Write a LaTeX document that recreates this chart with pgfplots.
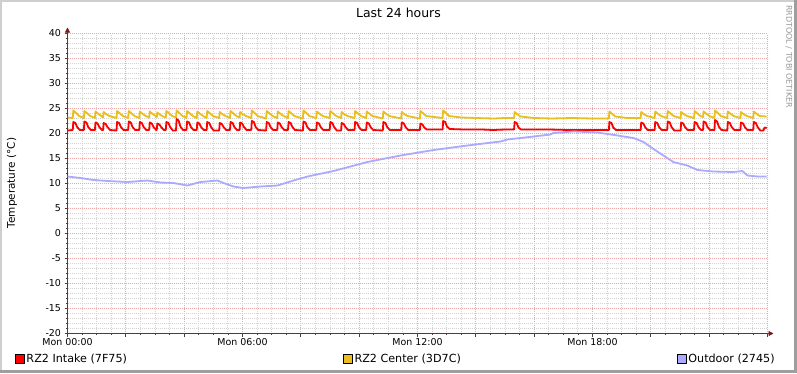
\documentclass[border=0pt]{standalone}
\usepackage{pgfplots}
\pgfplotsset{compat=1.18}
\usepackage{fontspec}
\setmainfont{DejaVu Sans}
\usetikzlibrary{arrows.meta}
\definecolor{cRed}{RGB}{255,0,0}
\definecolor{cYel}{RGB}{234,190,30}
\definecolor{cBlue}{RGB}{170,170,255}
\definecolor{mgrid}{RGB}{236,168,168}
\definecolor{sgrid}{RGB}{212,212,212}
\definecolor{arrowc}{RGB}{127,25,25}
\definecolor{axisc}{RGB}{80,60,60}
\definecolor{shadeA}{RGB}{207,207,207}
\definecolor{shadeB}{RGB}{158,158,158}
\begin{document}
\begin{tikzpicture}[x=1bp,y=1bp]
\fill[white] (0,0) rectangle (797,373);
\useasboundingbox (0,0) rectangle (797,373);
\fill[shadeA] (0,0) rectangle (2,373);
\fill[shadeA] (0,371) rectangle (797,373);
\fill[shadeB] (794,0) rectangle (797,373);
\fill[shadeB] (0,0) rectangle (797,3);
\node[font=\fontsize{12.5}{14}\selectfont] at (398.5,360) {Last 24 hours};
\node[rotate=90,font=\fontsize{10.5}{12}\selectfont] at (12,190) {Temperature (°C)};
\node[rotate=-90,anchor=west,inner sep=0pt,font=\fontsize{8}{9}\selectfont,text=black!40] at (789,368) {RRDTOOL / TOBI OETIKER};
\begin{axis}[
  at={(67.5bp,39.5bp)}, anchor=south west, scale only axis,
  width=700bp, height=300bp,
  xmin=0, xmax=24, ymin=-20, ymax=40,
  axis lines=left,
  axis line style={draw=axisc, line width=1bp},
  x axis line style={-{Triangle[length=5bp,width=5bp,fill=arrowc,color=arrowc]}, shorten >=-6bp},
  y axis line style={-{Triangle[length=5bp,width=5bp,fill=arrowc,color=arrowc]}, shorten >=-6bp},
  xtick={0,2,...,24},
  xticklabels={Mon 00:00,{},{},Mon 06:00,{},{},Mon 12:00,{},{},Mon 18:00,{},{},{}},
  ytick={-20,-15,...,40},
  minor x tick num=3, minor y tick num=4,
  grid=both,
  major grid style={draw=mgrid, line width=1bp, dash pattern=on 1bp off 1bp},
  minor grid style={draw=sgrid, line width=1bp, dash pattern=on 1bp off 1bp},
  tick align=outside, major tick length=3bp, minor tick length=1.5bp,
  tick style={draw=axisc, line width=0.7bp},
  /pgf/number format/assume math mode=true,
  ticklabel style={font=\fontsize{9.5}{10}\selectfont},
  xticklabel style={yshift=1.5bp},
  legend columns=3,
  legend cell align=left,
  legend image code/.code={\draw[#1,draw=black,line width=0.5bp,fill] (0bp,-4.5bp) rectangle (9bp,4.5bp);},
  legend style={draw=none, fill=none, inner sep=0pt, outer sep=0pt,
    at={(-0.0750,-0.0850)}, anchor=west,
    font=\fontsize{11.2}{12}\selectfont,
    /tikz/every even column/.append style={column sep=214bp}},
  every axis plot/.append style={line width=1.8bp, line join=round, mark=none},
]
\addplot[cRed, sharp plot] coordinates {
(0,20.6)
(0.18,20.7)(0.20,22.3)(0.27,22.1)(0.33,21.3)(0.42,20.7)
(0.56,20.7)(0.58,22.4)(0.65,22.2)(0.71,21.3)(0.80,20.7)
(0.94,20.7)(0.96,22.2)(1.03,22.0)(1.09,21.3)(1.18,20.7)
(1.22,20.7)(1.24,22.1)(1.31,21.9)(1.37,21.3)(1.46,20.7)
(1.68,20.6)(1.70,22.3)(1.77,22.1)(1.83,21.3)(1.92,20.7)
(2.08,20.7)(2.10,22.4)(2.17,22.2)(2.23,21.3)(2.32,20.7)
(2.46,20.7)(2.48,22.3)(2.55,22.1)(2.61,21.3)(2.70,20.7)
(2.80,20.7)(2.82,22.2)(2.89,22.0)(2.95,21.3)(3.04,20.7)
(3.06,20.7)(3.08,22.0)(3.15,21.8)(3.21,21.3)(3.30,20.7)
(3.37,20.7)(3.39,22.3)(3.46,22.1)(3.52,21.3)(3.61,20.6)
(3.72,20.6)(3.74,22.9)(3.81,22.6)(3.87,21.4)(3.96,20.7)
(4.08,20.7)(4.10,22.4)(4.17,22.2)(4.23,21.3)(4.32,20.7)
(4.43,20.7)(4.45,22.2)(4.52,22.0)(4.58,21.3)(4.67,20.7)
(4.77,20.7)(4.79,22.3)(4.86,22.1)(4.92,21.3)(5.01,20.6)
(5.20,20.6)(5.22,22.1)(5.29,21.9)(5.35,21.3)(5.44,20.7)
(5.57,20.7)(5.59,22.3)(5.66,22.1)(5.72,21.3)(5.81,20.7)
(5.90,20.7)(5.92,22.2)(5.99,22.0)(6.05,21.3)(6.14,20.7)
(6.30,20.7)(6.32,22.5)(6.39,22.3)(6.45,21.3)(6.54,20.7)
(6.81,20.6)(6.83,22.3)(6.90,22.1)(6.96,21.3)(7.05,20.7)
(7.19,20.7)(7.21,22.2)(7.28,22.0)(7.34,21.3)(7.43,20.7)
(7.56,20.7)(7.58,22.3)(7.65,22.1)(7.71,21.3)(7.80,20.7)
(8.07,20.6)(8.09,22.4)(8.16,22.2)(8.22,21.3)(8.31,20.7)
(8.53,20.7)(8.55,22.2)(8.62,22.0)(8.68,21.3)(8.77,20.7)
(8.99,20.7)(9.01,22.3)(9.08,22.1)(9.14,21.3)(9.23,20.6)
(9.38,20.6)(9.40,22.1)(9.47,21.9)(9.53,21.3)(9.62,20.7)
(9.84,20.7)(9.86,22.3)(9.93,22.1)(9.99,21.3)(10.08,20.7)
(10.24,20.7)(10.26,22.2)(10.33,22.0)(10.39,21.3)(10.48,20.7)
(10.81,20.6)(10.83,22.3)(10.90,22.1)(10.96,21.3)(11.05,20.7)
(11.44,20.7)(11.46,22.2)(11.53,22.0)(11.59,21.3)(11.68,20.7)
(12.08,20.7)(12.10,22.0)(12.17,21.8)(12.23,21.2)(12.32,20.8)
(12.86,20.8)(12.88,22.5)(12.95,22.3)(13.01,21.4)(13.10,20.9)
(13.6,20.8)(14.2,20.8)(14.6,20.7)(15.0,20.8)
(15.31,20.8)(15.33,22.3)(15.40,22.1)(15.46,21.2)(15.55,20.8)
(16.5,20.8)(17.2,20.7)(18.0,20.7)
(18.56,20.7)(18.58,22.3)(18.65,22.1)(18.71,21.2)(18.80,20.7)
(19.3,20.7)
(19.65,20.7)(19.67,22.2)(19.74,22.0)(19.80,21.3)(19.89,20.7)
(20.13,20.7)(20.15,22.3)(20.22,22.1)(20.28,21.3)(20.37,20.7)
(20.56,20.7)(20.58,22.4)(20.65,22.2)(20.71,21.3)(20.80,20.6)
(21.02,20.6)(21.04,22.2)(21.11,22.0)(21.17,21.3)(21.26,20.7)
(21.48,20.7)(21.50,22.3)(21.57,22.1)(21.63,21.3)(21.72,20.7)
(21.79,20.7)(21.81,22.4)(21.88,22.2)(21.94,21.3)(22.03,20.7)
(22.18,20.7)(22.20,22.7)(22.27,22.4)(22.33,21.4)(22.42,20.7)
(22.62,20.6)(22.64,22.3)(22.71,22.1)(22.77,21.3)(22.86,20.7)
(23.07,20.7)(23.09,22.2)(23.16,22.0)(23.22,21.3)(23.31,20.7)
(23.51,20.7)(23.53,22.3)(23.60,22.1)(23.66,21.3)(23.75,20.6)
(23.86,20.6)(23.90,21.2)(23.97,21.1)
};
\addlegendentry{RZ2 Intake (7F75)}
\addplot[cYel, sharp plot] coordinates {
(0,23.2)
(0.18,23.1)(0.20,24.6)(0.28,24.2)(0.40,23.5)
(0.56,23.1)(0.58,24.5)(0.66,24.1)(0.78,23.5)
(0.94,23.1)(0.96,24.4)(1.04,24.0)(1.16,23.5)
(1.22,23.2)(1.24,24.3)(1.32,23.9)(1.44,23.5)
(1.68,23.1)(1.70,24.5)(1.78,24.1)(1.90,23.5)
(2.08,23.1)(2.10,24.5)(2.18,24.1)(2.30,23.5)
(2.46,23.1)(2.48,24.4)(2.56,24.0)(2.68,23.5)
(2.80,23.2)(2.82,24.4)(2.90,24.0)(3.02,23.5)
(3.06,23.3)(3.08,24.2)(3.16,23.8)(3.28,23.4)
(3.37,23.2)(3.39,24.5)(3.47,24.1)(3.59,23.5)
(3.72,23.2)(3.74,24.6)(3.82,24.2)(3.94,23.5)
(4.08,23.1)(4.10,24.5)(4.18,24.1)(4.30,23.5)
(4.43,23.1)(4.45,24.4)(4.53,24.0)(4.65,23.5)
(4.77,23.1)(4.79,24.5)(4.87,24.1)(4.99,23.5)
(5.20,23.1)(5.22,24.3)(5.30,23.9)(5.42,23.5)
(5.57,23.1)(5.59,24.5)(5.67,24.1)(5.79,23.5)
(5.90,23.2)(5.92,24.3)(6.00,23.9)(6.12,23.5)
(6.30,23.1)(6.32,24.6)(6.40,24.2)(6.52,23.5)
(6.81,23.0)(6.83,24.5)(6.91,24.1)(7.03,23.5)
(7.19,23.1)(7.21,24.4)(7.29,24.0)(7.41,23.5)
(7.56,23.1)(7.58,24.5)(7.66,24.1)(7.78,23.5)
(8.07,23.0)(8.09,24.6)(8.17,24.2)(8.29,23.5)
(8.53,23.1)(8.55,24.4)(8.63,24.0)(8.75,23.5)
(8.99,23.1)(9.01,24.5)(9.09,24.1)(9.21,23.5)
(9.38,23.1)(9.40,24.3)(9.48,23.9)(9.60,23.5)
(9.84,23.1)(9.86,24.5)(9.94,24.1)(10.06,23.5)
(10.24,23.1)(10.26,24.4)(10.34,24.0)(10.46,23.5)
(10.81,23.0)(10.83,24.4)(10.91,24.0)(11.03,23.5)
(11.44,23.0)(11.46,24.3)(11.54,23.9)(11.66,23.5)
(12.08,23.0)(12.10,24.5)(12.18,24.1)(12.30,23.5)
(12.86,23.1)(12.88,24.6)(12.96,24.2)(13.08,23.5)
(13.5,23.2)(14.0,23.1)(14.6,23.0)(15.0,23.1)
(15.31,23.1)(15.33,24.3)(15.41,23.9)(15.53,23.4)
(16.0,23.1)(16.6,23.0)(17.3,23.1)(18.0,23.0)
(18.56,23.0)(18.58,24.4)(18.66,24.0)(18.78,23.4)
(19.2,23.1)
(19.65,23.1)(19.67,24.3)(19.75,23.9)(19.87,23.5)
(20.13,23.1)(20.15,24.4)(20.23,24.0)(20.35,23.5)
(20.56,23.1)(20.58,24.5)(20.66,24.1)(20.78,23.5)
(21.02,23.1)(21.04,24.3)(21.12,23.9)(21.24,23.5)
(21.48,23.1)(21.50,24.5)(21.58,24.1)(21.70,23.5)
(21.79,23.3)(21.81,24.4)(21.89,24.0)(22.01,23.5)
(22.18,23.1)(22.20,24.6)(22.28,24.2)(22.40,23.5)
(22.62,23.1)(22.64,24.4)(22.72,24.0)(22.84,23.5)
(23.07,23.1)(23.09,24.3)(23.17,23.9)(23.29,23.5)
(23.51,23.1)(23.53,24.4)(23.61,24.0)(23.73,23.5)
(23.97,23.4)
};
\addlegendentry{RZ2 Center (3D7C)}
\addplot[cBlue, sharp plot] coordinates {
(0,11.4)(0.45,11.1)(0.89,10.7)(1.37,10.5)(2.06,10.3)(2.74,10.6)
(3.19,10.2)(3.63,10.1)(4.11,9.6)(4.56,10.3)(5.14,10.6)(5.35,10.1)
(5.69,9.4)(6.03,9.1)(6.62,9.4)(7.20,9.6)(7.75,10.6)(8.23,11.4)
(9.12,12.5)(10.28,14.3)(11.42,15.6)(12.55,16.7)(13.71,17.6)
(14.84,18.4)(15.08,18.8)(15.98,19.4)(16.56,19.8)(16.66,20.1)
(17.35,20.4)(18.17,20.2)(18.86,19.6)(19.40,19.1)(19.75,18.3)
(20.09,16.9)(20.43,15.6)(20.77,14.3)(21.25,13.6)(21.60,12.7)
(22.14,12.4)(22.83,12.3)(23.14,12.5)(23.31,11.6)(23.66,11.4)(23.97,11.4)
};
\addlegendentry{Outdoor (2745)}
\end{axis}
\end{tikzpicture}
\end{document}
